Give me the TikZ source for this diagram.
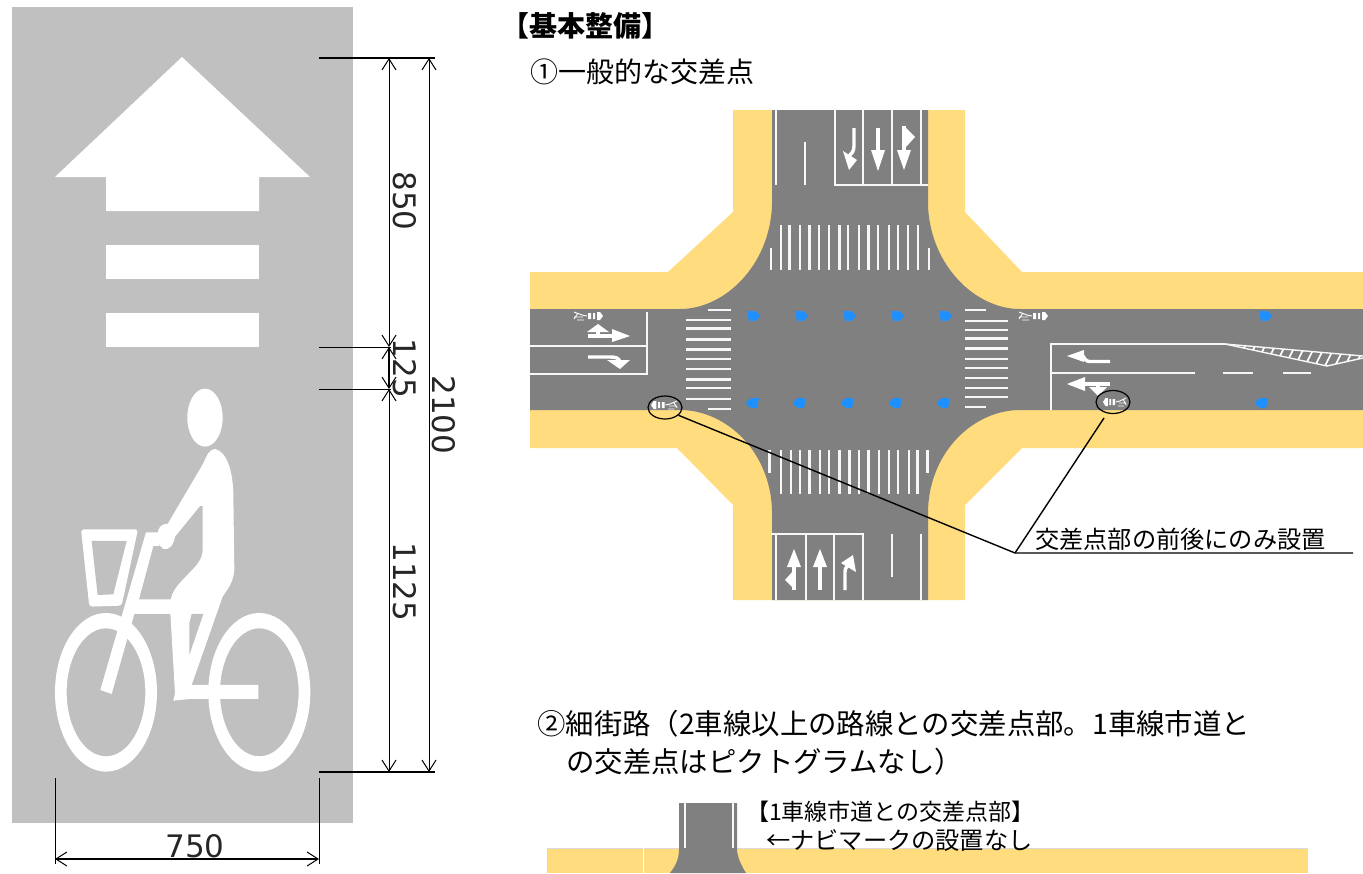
\documentclass[tikz,border=0pt]{standalone}
\usepackage{fontspec}
\setmainfont{Noto Sans CJK JP}
\newfontfamily\digitfont{DejaVu Sans}
\usetikzlibrary{arrows.meta,shapes.geometric}
\definecolor{panel}{HTML}{C0C0C0}
\definecolor{walk}{HTML}{FFDC7E}
\definecolor{road}{HTML}{808080}
\definecolor{navi}{HTML}{1E90FF}
\tikzset{
  dimline/.style={draw=black,line width=1pt,{Straight Barb[length=11pt,width=14pt,line width=1pt]}-{Straight Barb[length=11pt,width=14pt,line width=1pt]}},
  extline/.style={draw=black,line width=1pt},
  extheavy/.style={draw=black,line width=1.6pt},
  dimtext/.style={font=\digitfont\fontsize{31}{31}\selectfont,inner sep=0pt,text=black!85},
  title/.style={font=\fontsize{28.4}{29}\selectfont,inner sep=0pt,anchor=west},
  note/.style={font=\fontsize{24.2}{25}\selectfont,inner sep=0pt,anchor=west},
  mk/.style={draw=white!94!road,line width=2pt},
  mkb/.style={draw=white,line width=3.4pt},
  lead/.style={draw=black,line width=1.4pt},
  ring/.style={draw=black,line width=1.2pt,ellipse,minimum width=34pt,minimum height=23pt,inner sep=0pt},
}
\newcommand{\navir}[2]{\fill[navi] (#1-6,#2-5) -- (#1+1,#2-5) .. controls (#1+5,#2-4) and (#1+6,#2-1) .. (#1+7,#2) .. controls (#1+6,#2+2) and (#1+4,#2+5) .. (#1+1,#2+5) -- (#1-4,#2+5) -- cycle;}
\newcommand{\navil}[2]{\fill[navi] (#1+6,#2-5) -- (#1-1,#2-5) .. controls (#1-5,#2-4) and (#1-6,#2-1) .. (#1-7,#2) .. controls (#1-6,#2+2) and (#1-4,#2+5) .. (#1-1,#2+5) -- (#1+4,#2+5) -- cycle;}
\begin{document}
\begin{tikzpicture}[x=1pt,y=-1pt]
\useasboundingbox (0,0) rectangle (1363,873);
% ---------- left panel
\fill[panel] (12,7) rectangle (353,823);
\fill[white] (182,57) -- (310,177) -- (259,177) -- (259,211) -- (106,211) -- (106,177) -- (55,177) -- cycle;
\fill[white] (106,245) rectangle (259,279);
\fill[white] (106,313) rectangle (259,347);
\begin{scope}[shift={(40,380)},x=0.3333pt,y=-0.3333pt]
\fill[white] (495,113) ellipse [x radius=53,y radius=87];
\fill[white,even odd rule] (198,937) ellipse [x radius=153,y radius=238] (198,937) ellipse [x radius=118,y radius=192];
\fill[white,even odd rule] (658,937) ellipse [x radius=153,y radius=238] (658,937) ellipse [x radius=118,y radius=192];
% rider
\fill[white] (525,207) .. controls (560,215) and (578,270) .. (580,340) -- (583,570) .. controls (580,610) and (560,630) .. (548,650) -- (455,915) -- (655,915) -- (655,957) -- (450,957) -- (400,962) -- (405,940) -- (390,680) -- (393,655) .. controls (400,620) and (440,590) .. (470,555) .. controls (490,530) and (488,510) .. (488,500) -- (488,378) -- (480,378) -- (405,470) .. controls (400,500) and (385,510) .. (370,507) .. controls (355,500) and (350,470) .. (355,450) .. controls (360,435) and (375,430) .. (383,432) -- (490,250) .. controls (500,225) and (510,207) .. (525,207) -- cycle;
\fill[panel] (455,702) -- (490,702) -- (448,825) -- (448,730) -- cycle;
% frame
\fill[white] (318,457) -- (358,457) -- (358,498) -- (340,498) -- (297,658) -- (395,658) -- (395,702) -- (283,702) -- (215,942) -- (181,930) -- cycle;
% basket
\fill[white,rounded corners=3pt] (123,448) -- (294,448) -- (245,677) -- (148,680) -- cycle;
\fill[panel] (155,483) -- (260,483) -- (220,643) -- (173,645) -- cycle;
\end{scope}
% dimensions
\coordinate (e1a) at (319,58); \coordinate (e1b) at (435,58);
\coordinate (e2a) at (319,347); \coordinate (e2b) at (391,347);
\coordinate (e3a) at (319,389); \coordinate (e3b) at (391,389);
\coordinate (e4a) at (319,772); \coordinate (e4b) at (435,772);
\draw[extheavy] (e1a) -- (e1b);
\draw[extline] (e2a) -- (e2b);
\draw[extline] (e3a) -- (e3b);
\draw[extheavy] (e4a) -- (e4b);
\coordinate (d1) at (389,58); \coordinate (d2) at (389,347); \coordinate (d3) at (389,389); \coordinate (d4) at (389,772);
\coordinate (t1) at (429,58); \coordinate (t2) at (429,772);
\draw[dimline] (d1) -- (d2);
\draw[dimline,line width=1.4pt] (d2) -- (d3);
\draw[dimline] (d3) -- (d4);
\draw[dimline] (t1) -- (t2);
\coordinate (b1a) at (55,778); \coordinate (b1b) at (55,864);
\coordinate (b2a) at (319,778); \coordinate (b2b) at (319,864);
\draw[extline] (b1a) -- (b1b);
\draw[extline] (b2a) -- (b2b);
\coordinate (b1) at (55,859); \coordinate (b2) at (319,859);
\draw[dimline,line width=1.4pt] (b1) -- (b2);
\node[dimtext,rotate=-90] (l850) at (404.5,201) {850};
\node[dimtext,rotate=-90] (l125) at (404.5,368.5) {125};
\node[dimtext,rotate=-90] (l1125) at (404.5,582) {1125};
\node[dimtext,rotate=-90] (l2100) at (443.5,415) {2100};
\node[dimtext] (l750) at (195,846) {750};
% ---------- titles
\node[title,font=\bfseries\fontsize{28}{29}\selectfont] (t0) at (501.5,25.5) {【基本整備】};
\node[title,font=\fontsize{28}{28}\selectfont] (t1x) at (530,72) {①一般的な交差点};
\node[title] (t2x) at (537,724) {②細街路（2車線以上の路線との交差点部。1車線市道と};
\node[title] (t3x) at (566,762) {の交差点はピクトグラムなし）};
% ---------- intersection: sidewalks
\fill[walk] (733,110) -- (965,110) -- (965,212) -- (1022,272) -- (1363,272) -- (1363,448) -- (1022,448) -- (965,505) -- (965,600) -- (733,600) -- (733,505) -- (677,448) -- (530,448) -- (530,272) -- (668,272) -- (733,212) -- cycle;
% road
\fill[road] (772,110) -- (928,110) -- (928,205) .. controls (930,265) and (975,309) .. (1020,309) -- (1363,309) -- (1363,410) -- (1020,410) .. controls (975,410) and (930,450) .. (928,510) -- (928,600) -- (772,600) -- (772,510) .. controls (770,450) and (725,410) .. (680,410) -- (530,410) -- (530,309) -- (680,309) .. controls (725,309) and (770,265) .. (772,205) -- cycle;
% crosswalks
\foreach \q in {780.7,789.3,800,809.3,818.7,828.7,839.3,848,858.7,868.3,877.7,888.7,898,907.7,917.7}{\draw[mk,line width=2.4pt] (\q,225) -- (\q,270);}
\foreach \q in {770.7,928.7}{\draw[mk,line width=2.4pt] (\q,248) -- (\q,270);}
\foreach \q in {780.7,790.7,800,809.3,820,828.7,839.3,849.3,858.7,868.3,879,888.7,898,908.7,917.3}{\draw[mk,line width=2.4pt] (\q,450) -- (\q,494);}
\foreach \q in {769.3,927.3}{\draw[mk,line width=2.4pt] (\q,450) -- (\q,473);}
\foreach \q in {320,328.3,339.3,349.3,358.7,368.7,379.3,387.7,398.7}{\draw[mk,line width=2.4pt] (686,\q) -- (731,\q);}
\foreach \q in {310,408.7}{\draw[mk,line width=2.4pt] (708,\q) -- (731,\q);}
\foreach \q in {320.7,329.7,338.3,348.3,359,367.7,378,387.7,397}{\draw[mk,line width=2.4pt] (965,\q) -- (1008,\q);}
\foreach \q in {310,407}{\draw[mk,line width=2.4pt] (965,\q) -- (986,\q);}
% lane lines
\draw[mk] (530,346) -- (647,346);
\draw[mk] (530,374) -- (647,374) -- (647,312);
\draw[mk] (1051,410) -- (1051,344) -- (1225,344);
\draw[mk] (1051,373) -- (1195,373);
\draw[mk] (1223,373) -- (1253,373);
\draw[mk] (1283,373) -- (1311,373);
\draw[mk] (928,185) -- (835,185) -- (835,110);
\foreach \q in {863,892,921}{\draw[mk] (\q,110) -- (\q,185);}
\draw[mk] (776,110) -- (776,185);
\draw[mk] (805,142) -- (805,185);
\draw[mk] (771,534) -- (863,534) -- (863,600);
\foreach \q in {776,806,834}{\draw[mk] (\q,534) -- (\q,600);}
\draw[mk] (892,534) -- (892,577);
\draw[mk] (921,534) -- (921,600);
% zebra
\draw[mk,line width=1.4pt] (1225,344) -- (1363,356);
\draw[mk,line width=1.4pt] (1225,344) -- (1327,366) -- (1363,358);
\begin{scope}
\clip (1225,344) -- (1363,356) -- (1363,358) -- (1327,366) -- cycle;
\foreach \q in {1246,1256,1266,1276,1286,1296,1306,1316,1326,1336,1346,1356,1366}{\draw[white,line width=1.6pt] (\q,344) -- (\q-14,372);}
\end{scope}
% arrows: left approach
\draw[mkb] (588,336) -- (614,336);
\fill[white] (630,336) -- (612,329) -- (612,342) -- cycle;
\draw[mkb] (598,336) -- (598,330);
\fill[white] (598,324) -- (587,332) -- (609,332) -- cycle;
\draw[mkb] (588,357) -- (610,357) .. controls (616,357) and (619,358) .. (620,362);
\fill[white] (620,369) -- (607,360) -- (630,360) -- cycle;
% arrows: right approach
\draw[mkb] (1110,361.5) -- (1090,361.5) .. controls (1086,361.5) and (1085,359) .. (1083,356);
\fill[white] (1067,356) -- (1084,350) -- (1084,362) -- cycle;
\draw[mkb] (1110,384) -- (1084,384);
\fill[white] (1067,384) -- (1085,377) -- (1085,391) -- cycle;
\draw[mkb] (1098,384) -- (1098,390);
\fill[white] (1098,396) -- (1089,387) -- (1107,387) -- cycle;
% arrows: top approach
\draw[mkb] (854,128) -- (854,146) .. controls (854,152) and (851,154) .. (849,156);
\fill[white] (849,170) -- (843,151) -- (857,160) -- cycle;
\draw[mkb] (878,128) -- (878,152);
\fill[white] (878,171) -- (871,150) -- (885,150) -- cycle;
\draw[mkb] (904,126) -- (904,152);
\fill[white] (904,170) -- (897,150) -- (911,150) -- cycle;
\draw[mkb] (904,137) -- (908,137);
\fill[white] (915,137) -- (906,128) -- (906,147) -- cycle;
% arrows: bottom approach
\draw[mkb] (794,590) -- (794,563);
\fill[white] (794,549) -- (787,567) -- (801,567) -- cycle;
\draw[mkb] (794,580) -- (790,580);
\fill[white] (785,580) -- (793,571) -- (794,589) -- cycle;
\draw[mkb] (820,590) -- (820,563);
\fill[white] (820,549) -- (813,567) -- (827,567) -- cycle;
\draw[mkb] (845,590) -- (845,572) .. controls (845,568) and (847,566) .. (849,565);
\fill[white] (853,555) -- (841,563) -- (856,572) -- cycle;
% navi marks (blue)
\foreach \q in {753,801,849,897,945,1265}{\navir{\q}{316}}
\foreach \q in {753,800,848,896,944,1262}{\navil{\q}{403}}
% small pictograms
\begin{scope}[shift={(573,316)}]
\draw[white,line width=0.9pt] (1,-4) -- (9,-1) -- (14,0) (1,1) -- (10,1) (1,3) -- (5,-3) (4,4) -- (11,4);
\fill[white] (15,-3) rectangle (18,3) (20,-3) rectangle (22,3);
\fill[white] (24,-4) -- (27,-4) -- (30,0) -- (27,4) -- (24,4) -- cycle;
\end{scope}
\begin{scope}[shift={(1018,316)}]
\draw[white,line width=0.9pt] (1,-4) -- (9,-1) -- (14,0) (1,1) -- (10,1) (1,3) -- (5,-3) (4,4) -- (11,4);
\fill[white] (15,-3) rectangle (18,3) (20,-3) rectangle (22,3);
\fill[white] (24,-4) -- (27,-4) -- (30,0) -- (27,4) -- (24,4) -- cycle;
\end{scope}
\begin{scope}[shift={(678,405)},xscale=-0.9]
\draw[white,line width=0.9pt] (1,-4) -- (9,-1) -- (14,0) (1,1) -- (10,1) (1,3) -- (5,-3) (4,4) -- (11,4);
\fill[white] (15,-3) rectangle (18,3) (20,-3) rectangle (22,3);
\fill[white] (24,-4) -- (27,-4) -- (30,0) -- (27,4) -- (24,4) -- cycle;
\end{scope}
\begin{scope}[shift={(1127,402)},xscale=-0.8]
\draw[white,line width=0.9pt] (1,-4) -- (9,-1) -- (14,0) (1,1) -- (10,1) (1,3) -- (5,-3) (4,4) -- (11,4);
\fill[white] (15,-3) rectangle (18,3) (20,-3) rectangle (22,3);
\fill[white] (24,-4) -- (27,-4) -- (30,0) -- (27,4) -- (24,4) -- cycle;
\end{scope}
% callout
\node[ring] (ringL) at (665,407.5) {};
\node[ring] (ringR) at (1113,402) {};
\coordinate (elbow) at (1015,553);
\coordinate (lineend) at (1353,553);
\coordinate (ringRend) at (1104,418);
\draw[lead] (ringL.-30) -- (elbow) -- (lineend);
\draw[lead] (ringRend) -- (elbow);
\node[note] (callout) at (1035,539) {交差点部の前後にのみ設置};
% ---------- bottom fragment
\fill[walk] (547,848) rectangle (1308,873);
\draw[draw=black!15,line width=1pt] (547,848) -- (1308,848);
\draw[white,line width=0.8pt] (643,848) -- (643,873);
\fill[road] (679,803) -- (737,803) -- (737,850) .. controls (738,860) and (743,868) .. (746,873) -- (670,873) .. controls (674,868) and (679,860) .. (679,850) -- cycle;
\draw[mk,line width=1.4pt] (685,803) -- (685,848);
\draw[mk,line width=1.4pt] (733,803) -- (733,848);
\node[note,font=\fontsize{23}{24}\selectfont] (n1) at (746,812) {【1車線市道との交差点部】};
\node[note] (n2) at (766,840) {←ナビマークの設置なし};
\end{tikzpicture}
\end{document}
